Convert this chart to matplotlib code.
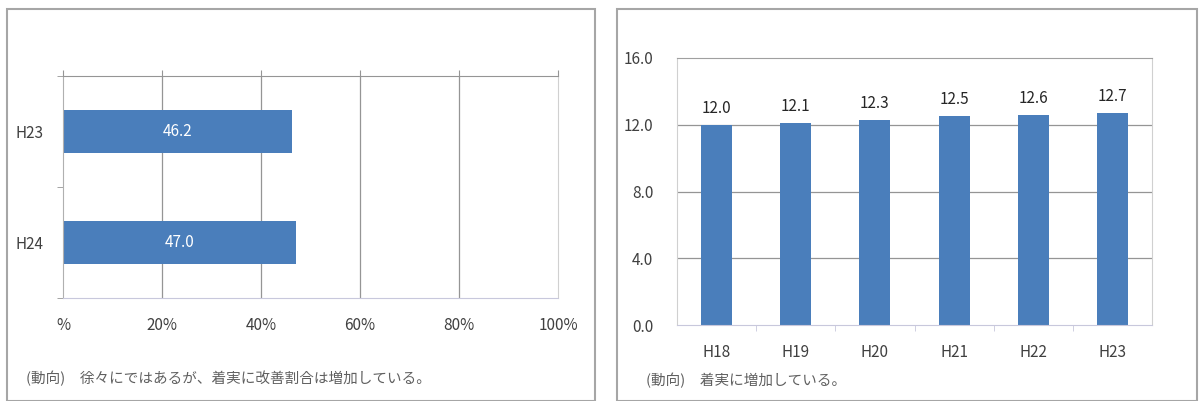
import matplotlib.pyplot as plt
from matplotlib.patches import Rectangle

plt.rcParams['font.family'] = ['Noto Sans CJK JP', 'DejaVu Sans']

# left chart: improvement ratio (%)
years_left = ["H23", "H24"]
ratio = [46.2, 47.0]
pct_ticks = [0, 20, 40, 60, 80, 100]
pct_labels = ["%", "20%", "40%", "60%", "80%", "100%"]
note_left = "(動向)　徐々にではあるが、着実に改善割合は増加している。"

# right chart
years_right = ["H18", "H19", "H20", "H21", "H22", "H23"]
values = [12.0, 12.1, 12.3, 12.5, 12.6, 12.7]
y_ticks = [0, 4, 8, 12, 16]
note_right = "(動向)　着実に増加している。"

blue = "#4a7ebb"
grid = "#959595"
light = "#c8c8dc"
text_c = "#404040"

W, H = 1200, 401
fig = plt.figure(figsize=(12, 4.01), dpi=100)

# panel frames
for x0, x1 in [(7, 595), (617, 1197)]:
    fig.patches.append(Rectangle((x0 / W, 0), (x1 - x0) / W, 1 - 9 / H,
                                 transform=fig.transFigure, fill=False,
                                 edgecolor="#a6a6a6", linewidth=1.5))

# ---- left chart
ax1 = fig.add_axes([63 / W, 1 - 298 / H, (558 - 63) / W, (298 - 76) / H])
pos = list(range(len(years_left)))
ax1.barh(pos, ratio, height=0.39, color=blue)
for p, v in zip(pos, ratio):
    ax1.text(v / 2, p, f"{v:.1f}", color="white", ha="center", va="center", fontsize=11)
ax1.set_xlim(0, 100)
ax1.set_ylim(len(years_left) - 0.5, -0.5)
ax1.set_xticks(pct_ticks)
ax1.set_xticklabels(pct_labels)
ax1.set_yticks(pos)
ax1.set_yticklabels(years_left)
ax1.set_yticks([-0.5, 0.5, 1.5], minor=True)
ax1.tick_params(axis="y", which="major", length=0, pad=14, labelsize=11, labelcolor=text_c)
ax1.tick_params(axis="y", which="minor", length=4, color=grid, direction="out")
ax1.tick_params(axis="x", top=True, bottom=False, labeltop=False, labelbottom=True,
                length=4, color=grid, pad=10, labelsize=11, labelcolor=text_c)
for g in pct_ticks[1:-1]:
    ax1.axvline(g, color=grid, linewidth=0.9, zorder=0)
ax1.spines["top"].set_color(grid)
ax1.spines["left"].set_color("#b0b0b0")
ax1.spines["right"].set_color("#d0d0d0")
ax1.spines["bottom"].set_color(light)
fig.text(26 / W, 1 - 378 / H, note_left, fontsize=10.5, color="#606060", va="center")

# ---- right chart
ax2 = fig.add_axes([677 / W, 1 - 325 / H, (1152 - 677) / W, (325 - 58) / H])
xpos = list(range(len(years_right)))
ax2.bar(xpos, values, width=0.39, color=blue)
for p, v in zip(xpos, values):
    ax2.annotate(f"{v:.1f}", (p, v), xytext=(0, 12), textcoords="offset points",
                 ha="center", va="center", fontsize=11, color="#262626")
ax2.set_xlim(-0.5, len(years_right) - 0.5)
ax2.set_ylim(0, 16)
ax2.set_yticks(y_ticks)
ax2.set_yticklabels([f"{t:.1f}" for t in y_ticks])
ax2.set_xticks(xpos)
ax2.set_xticklabels(years_right)
ax2.set_xticks([i + 0.5 for i in xpos[:-1]], minor=True)
ax2.tick_params(axis="x", which="major", length=0, pad=14, labelsize=11, labelcolor=text_c)
ax2.tick_params(axis="x", which="minor", length=4, color=light, direction="out")
ax2.tick_params(axis="y", length=0, pad=17, labelsize=11, labelcolor=text_c)
for g in y_ticks[1:-1]:
    ax2.axhline(g, color=grid, linewidth=0.9, zorder=0)
ax2.spines["top"].set_color("#a0a0a0")
ax2.spines["left"].set_color("#d0d0d0")
ax2.spines["right"].set_color("#d0d0d0")
ax2.spines["bottom"].set_color(light)
fig.text(646 / W, 1 - 380 / H, note_right, fontsize=10.5, color="#606060", va="center")

fig.savefig("out.png", dpi=100)
